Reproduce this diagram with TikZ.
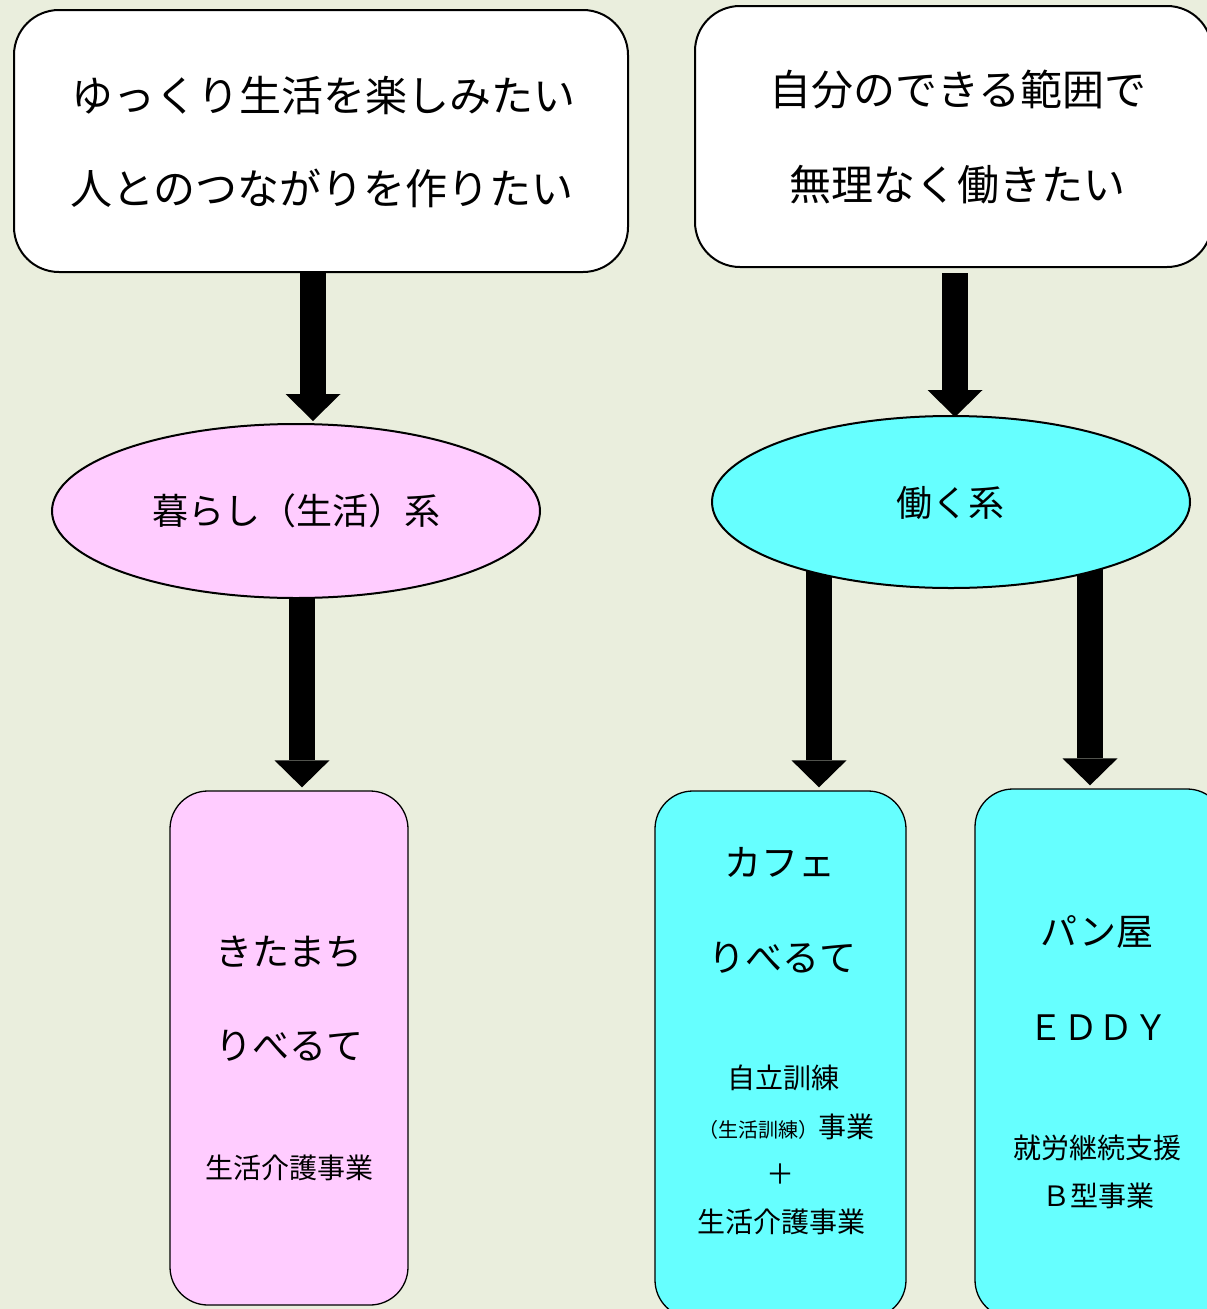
\documentclass[tikz,border=0pt]{standalone}
\usepackage{fontspec}
\setmainfont{Noto Sans CJK JP}
\usetikzlibrary{shapes.geometric,arrows.meta,backgrounds}
\definecolor{bgc}{RGB}{234,238,221}
\definecolor{pinkc}{RGB}{255,204,255}
\definecolor{cyanc}{RGB}{102,255,255}
\newcommand{\fs}[1]{\fontsize{#1}{#1}\selectfont}
\begin{document}
\begin{tikzpicture}[x=1pt,y=1pt,
  topbox/.style={draw=black,line width=2pt,fill=white,rounded corners=45pt,inner sep=0pt},
  botbox/.style={draw=black,line width=1.3pt,rounded corners=38pt,inner sep=0pt},
  oval/.style={ellipse,draw=black,line width=2pt,inner sep=0pt},
  txt/.style={inner sep=0pt,anchor=center},
  bigarrow/.style={line width=26pt,-{Triangle[length=27pt,width=55pt,line width=0pt]}}]
\useasboundingbox (0,0) rectangle (1207,-1309);
% boxes
\node[topbox,minimum width=614pt,minimum height=262pt] (box1) at (321,-141) {};
\node[topbox,minimum width=517pt,minimum height=261pt] (box2) at (953.5,-136.5) {};
\node[oval,fill=pinkc,minimum width=488pt,minimum height=174pt] (ell1) at (296,-511) {};
\node[oval,fill=cyanc,minimum width=478pt,minimum height=172pt] (ell2) at (951,-502) {};
\node[botbox,fill=pinkc,minimum width=238pt,minimum height=514pt] (box3) at (289,-1048) {};
\node[botbox,fill=cyanc,minimum width=251pt,minimum height=527pt] (box4) at (780.5,-1054.5) {};
\node[botbox,fill=cyanc,minimum width=250pt,minimum height=529pt] (box5) at (1100,-1053.5) {};
% texts
\node[txt,font=\fs{42}] (t1a) at (323,-95) {ゆっくり生活を楽しみたい};
\node[txt,font=\fs{42}] (t1b) at (322,-188) {人とのつながりを作りたい};
\node[txt,font=\fs{42}] (t2a) at (958,-90) {自分のできる範囲で};
\node[txt,font=\fs{42}] (t2b) at (957,-185) {無理なく働きたい};
\node[txt,font=\fs{36}] (te1) at (296,-511) {暮らし（生活）系};
\node[txt,font=\fs{36}] (te2) at (950,-503) {働く系};
\node[txt,font=\fs{37}] (t3a) at (289,-952) {きたまち};
\node[txt,font=\fs{37}] (t3b) at (289,-1046) {りべるて};
\node[txt,font=\fs{28}] (t3c) at (289,-1168) {生活介護事業};
\node[txt,font=\fs{37}] (t4a) at (780,-862) {カフェ};
\node[txt,font=\fs{37}] (t4b) at (782,-958) {りべるて};
\node[txt,font=\fs{28}] (t4c) at (783,-1078) {自立訓練};
\node[txt] (t4d) at (786,-1127) {\fs{20}（生活訓練）\fs{28}事業};
\node[txt,font=\fs{28}] (t4e) at (780,-1174) {＋};
\node[txt,font=\fs{28}] (t4f) at (781,-1222) {生活介護事業};
\node[txt,font=\fs{37}] (t5a) at (1097,-932) {パン屋};
\node[txt,font=\fs{35}] (t5b) at (1098,-1028) {ＥＤＤＹ};
\node[txt,font=\fs{28}] (t5c) at (1097,-1148) {就労継続支援};
\node[txt,font=\fs{28}] (t5d) at (1098,-1196) {Ｂ型事業};
% background and arrows
\begin{scope}[on background layer]
\fill[bgc] (0,0) rectangle (1207,-1309);
\draw[bigarrow] ([xshift=-8pt]box1.south) -- ([xshift=17pt,yshift=2pt]ell1.north);
\draw[bigarrow] ([xshift=6pt]ell1.center) -- ([xshift=13pt,yshift=3pt]box3.north);
\draw[bigarrow] ([xshift=1.5pt,yshift=-5pt]box2.south) -- ([xshift=4pt,yshift=-2pt]ell2.north);
\draw[bigarrow] ([xshift=-132pt]ell2.center) -- ([xshift=38.5pt,yshift=3pt]box4.north);
\draw[bigarrow] ([xshift=139pt]ell2.center) -- ([xshift=-10pt,yshift=3pt]box5.north);
\end{scope}
\end{tikzpicture}
\end{document}
